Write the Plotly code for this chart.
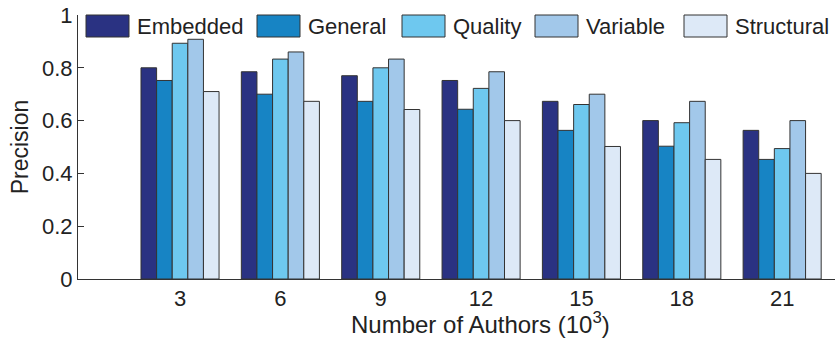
import plotly.graph_objects as go

# ---- data ----
authors = [3, 6, 9, 12, 15, 18, 21]
series_names = ["Embedded", "General", "Quality", "Variable", "Structural"]
embedded = [0.80, 0.785, 0.77, 0.752, 0.673, 0.60, 0.563]
general = [0.752, 0.70, 0.673, 0.643, 0.563, 0.503, 0.453]
quality = [0.893, 0.833, 0.80, 0.722, 0.661, 0.592, 0.494]
variable = [0.908, 0.860, 0.833, 0.785, 0.70, 0.673, 0.60]
structural = [0.710, 0.673, 0.642, 0.600, 0.502, 0.453, 0.40]
y_ticks = [0, 0.2, 0.4, 0.6, 0.8, 1]
y_tick_labels = ["0", "0.2", "0.4", "0.6", "0.8", "1"]

colors = ["#2a3282", "#1784c4", "#6ec8ef", "#a2c8ea", "#dde9f7"]
values = [embedded, general, quality, variable, structural]

# the page's body margin is removed (post_script), so the figure fills the window
W, H = 835, 341
PLOT_L, PLOT_R, PLOT_T, PLOT_B = 78, 835, 15, 279   # window pixels
ML, MR, MT, MB = PLOT_L, W - PLOT_R, PLOT_T, H - PLOT_B
PW, PH = PLOT_R - PLOT_L, PLOT_B - PLOT_T
FONT = "Liberation Sans, Arial, Helvetica, sans-serif"
TXT = "#222222"

fig = go.Figure()
for name, vals, col in zip(series_names, values, colors):
    fig.add_trace(go.Bar(
        x=authors, y=vals, name=name,
        marker=dict(color=col, line=dict(color="#333333", width=1)),
        showlegend=False,
    ))

# custom legend (window pixel layout -> paper coords)
leg_box_x = [86, 257, 402, 535, 684]
leg_box_w = 43
leg_box_top, leg_box_bot = 15, 37
leg_text_gap = 6


def px2paper_x(px):
    return (px - PLOT_L) / PW


def py2paper_y(py):
    return (PLOT_B - py) / PH


shapes = []
annotations = []
for name, col, bx in zip(series_names, colors, leg_box_x):
    shapes.append(dict(
        type="rect", xref="paper", yref="paper",
        x0=px2paper_x(bx), x1=px2paper_x(bx + leg_box_w),
        y0=py2paper_y(leg_box_bot), y1=py2paper_y(leg_box_top),
        fillcolor=col, line=dict(color="#333333", width=1),
    ))
    annotations.append(dict(
        xref="paper", yref="paper",
        x=px2paper_x(bx + leg_box_w + leg_text_gap),
        y=py2paper_y((leg_box_top + leg_box_bot) / 2 + 1),
        xanchor="left", yanchor="middle", showarrow=False,
        text=name, font=dict(family=FONT, size=22, color=TXT),
    ))

# x-axis title (centred as in the original, whose axis ran further right)
annotations.append(dict(
    xref="paper", yref="paper",
    x=px2paper_x(480), y=py2paper_y(323),
    xanchor="center", yanchor="middle", showarrow=False,
    text="Number of Authors (10<sup>3</sup>)",
    font=dict(family=FONT, size=24, color=TXT),
))

fig.update_layout(
    width=W, height=H, autosize=False,
    margin=dict(l=ML, r=MR, t=MT, b=MB, pad=0, autoexpand=False),
    paper_bgcolor="white", plot_bgcolor="white",
    barmode="group", bargap=0.222, bargroupgap=0,
    shapes=shapes, annotations=annotations,
    font=dict(family=FONT, size=22, color=TXT),
    xaxis=dict(
        range=[-0.05, 22.58], tickvals=authors,
        ticktext=[str(a) for a in authors],
        showgrid=False, zeroline=False, automargin=False,
        showline=True, linecolor="#333333", linewidth=1,
        ticks="", tickfont=dict(family=FONT, size=22, color=TXT),
    ),
    yaxis=dict(
        range=[0, 1], tickvals=y_ticks, ticktext=y_tick_labels,
        showgrid=False, zeroline=False, automargin=False,
        showline=True, linecolor="#333333", linewidth=1,
        ticks="inside", ticklen=6, tickcolor="#333333",
        ticklabeloverflow="allow",
        tickfont=dict(family=FONT, size=22, color=TXT),
        title=dict(text="Precision", font=dict(family=FONT, size=23, color=TXT), standoff=6),
    ),
)

fig.write_html(
    "out.html",
    config={"displayModeBar": False, "staticPlot": True},
    post_script="document.body.style.margin='0px';document.body.style.overflow='hidden';",
)
